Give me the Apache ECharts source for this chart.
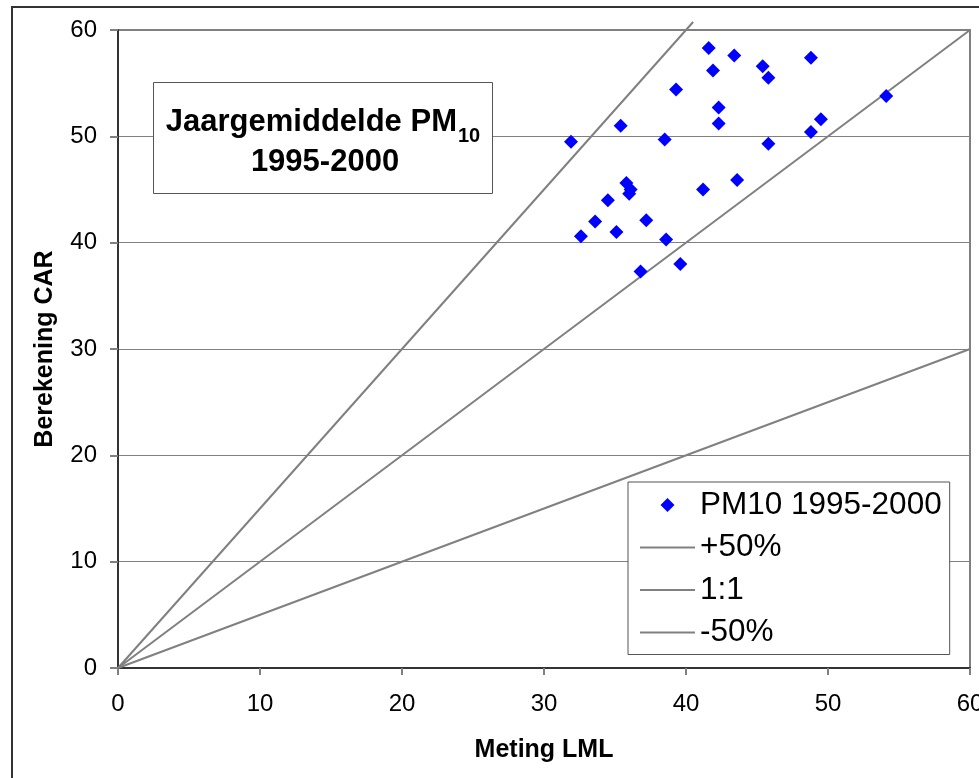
<!DOCTYPE html>
<html>
<head>
<meta charset="utf-8">
<script src="https://cdn.jsdelivr.net/npm/echarts@6/dist/echarts.min.js"></script>
<style>
  html, body { margin: 0; padding: 0; background: #fff; }
  #chart { width: 979px; height: 778px; }
</style>
</head>
<body>
<div id="chart"></div>
<script>
// Annual mean PM10, 1995-2000: measured (LML) vs. calculated (CAR)
const metingLML = [41.6, 43.4, 41.9, 39.3, 42.3, 42.3, 35.4, 31.9, 38.5, 35.8,
                   36.1, 36.0, 41.2, 43.6, 34.5, 33.6, 37.2, 35.1, 32.6, 38.6,
                   39.6, 36.8, 45.4, 45.8, 48.8, 54.1, 49.5, 48.8, 45.8];
const berekeningCAR = [58.3, 57.6, 56.2, 54.4, 52.7, 51.2, 51.0, 49.5, 49.7, 45.6,
                       45.0, 44.6, 45.0, 45.9, 44.0, 42.0, 42.1, 41.0, 40.6, 40.3,
                       38.0, 37.3, 56.6, 55.5, 57.4, 53.8, 51.6, 50.4, 49.3];

// Reference lines (x, y end points)
const plus50X = [0, 40.5],  plus50Y = [0, 60.75];
const oneToOneX = [0, 60],  oneToOneY = [0, 60];
const minus50X = [0, 60],   minus50Y = [0, 30];

const seriesNames = ['PM10 1995-2000', '+50%', '1:1', '-50%'];
const axisMin = 0, axisMax = 60, axisStep = 10;

const pair = (xs, ys) => xs.map((x, i) => [x, ys[i]]);

const FONT = '"Liberation Sans", Arial, sans-serif';
const GRAY = '#808080';
// legend keys: a thin bar for the reference lines, a small centred diamond
// (padded with empty end points so it is not stretched to the key width)
const LINE_ICON = 'path://M0,0L55,0L55,2L0,2Z';
const DIAMOND_ICON = 'path://M0,7L0,7M55,7L55,7M27.5,0L34.5,7L27.5,14L20.5,7Z';

const refLine = (name, xs, ys) => ({
  name: name,
  type: 'line',
  data: pair(xs, ys),
  symbol: 'none',
  showSymbol: false,
  clip: false,
  silent: true,
  z: 2,
  itemStyle: { color: GRAY },
  lineStyle: { color: GRAY, width: 2 }
});

const chart = echarts.init(document.getElementById('chart'), null, { renderer: 'canvas' });

chart.setOption({
  animation: false,
  backgroundColor: '#fff',
  grid: {
    left: 118, top: 30, right: 9, bottom: 110,
    outerBoundsMode: 'none',
    containLabel: false,
    show: true, borderColor: GRAY, borderWidth: 2, backgroundColor: 'transparent'
  },
  xAxis: {
    type: 'value', min: axisMin, max: axisMax, interval: axisStep,
    name: 'Meting LML', nameLocation: 'middle', nameGap: 70,
    nameTextStyle: { fontFamily: FONT, fontSize: 25, fontWeight: 'bold', color: '#000' },
    axisLine: { show: true, onZero: false, lineStyle: { color: '#333', width: 2 } },
    axisTick: { show: true, inside: false, length: 7, lineStyle: { color: GRAY, width: 2 } },
    axisLabel: { margin: 24, fontFamily: FONT, fontSize: 24, color: '#000', hideOverlap: false },
    splitLine: { show: false }
  },
  yAxis: {
    type: 'value', min: axisMin, max: axisMax, interval: axisStep,
    name: 'Berekening CAR', nameLocation: 'middle', nameGap: 60,
    nameTextStyle: { fontFamily: FONT, fontSize: 25, fontWeight: 'bold', color: '#000' },
    axisLine: { show: true, onZero: false, lineStyle: { color: '#333', width: 2 } },
    axisTick: { show: true, inside: false, length: 8, lineStyle: { color: GRAY, width: 2 } },
    axisLabel: { margin: 21, fontFamily: FONT, fontSize: 24, color: '#000' },
    splitLine: { show: true, lineStyle: { color: GRAY, width: 1 } }
  },
  legend: {
    orient: 'vertical',
    left: 628, top: 482,
    data: [
      { name: seriesNames[0], icon: DIAMOND_ICON },
      { name: seriesNames[1], icon: LINE_ICON },
      { name: seriesNames[2], icon: LINE_ICON },
      { name: seriesNames[3], icon: LINE_ICON }
    ],
    itemWidth: 55, itemHeight: 14, itemGap: 8.5,
    padding: [6, 8, 5, 12],
    backgroundColor: '#fff',
    borderColor: '#555', borderWidth: 1, borderRadius: 0,
    textStyle: { fontFamily: FONT, fontSize: 31.5, color: '#000', lineHeight: 34 },
    selectedMode: false,
    z: 10
  },
  graphic: [
    {
      type: 'rect', z: 100, silent: true,
      shape: { x: 12, y: 7, width: 1200, height: 1200 },
      style: { fill: 'none', stroke: '#333', lineWidth: 2 }
    },
    {
      type: 'rect', z: 50, silent: true,
      shape: { x: 153.5, y: 82.5, width: 339, height: 111 },
      style: { fill: '#fff', stroke: '#555', lineWidth: 1 }
    },
    {
      type: 'text', z: 51, silent: true,
      x: 323, y: 122,
      style: {
        text: '{a|Jaargemiddelde PM}{s|10}',
        align: 'center', verticalAlign: 'middle',
        rich: {
          a: { fontFamily: FONT, fontSize: 31, fontWeight: 'bold', fill: '#000', lineHeight: 36 },
          s: { fontFamily: FONT, fontSize: 20, fontWeight: 'bold', fill: '#000', lineHeight: 36, verticalAlign: 'bottom', padding: [0, 0, -6, 1] }
        }
      }
    },
    {
      type: 'text', z: 51, silent: true,
      x: 325, y: 162,
      style: {
        text: '1995-2000',
        align: 'center', verticalAlign: 'middle',
        fontFamily: FONT, fontSize: 31, fontWeight: 'bold', fill: '#000'
      }
    }
  ],
  series: [
    {
      name: seriesNames[0],
      type: 'scatter',
      data: pair(metingLML, berekeningCAR),
      symbol: 'diamond',
      symbolSize: 14,
      itemStyle: { color: '#0000ff', opacity: 1 },
      z: 5
    },
    refLine(seriesNames[1], plus50X, plus50Y),
    refLine(seriesNames[2], oneToOneX, oneToOneY),
    refLine(seriesNames[3], minus50X, minus50Y)
  ]
});
</script>
</body>
</html>
